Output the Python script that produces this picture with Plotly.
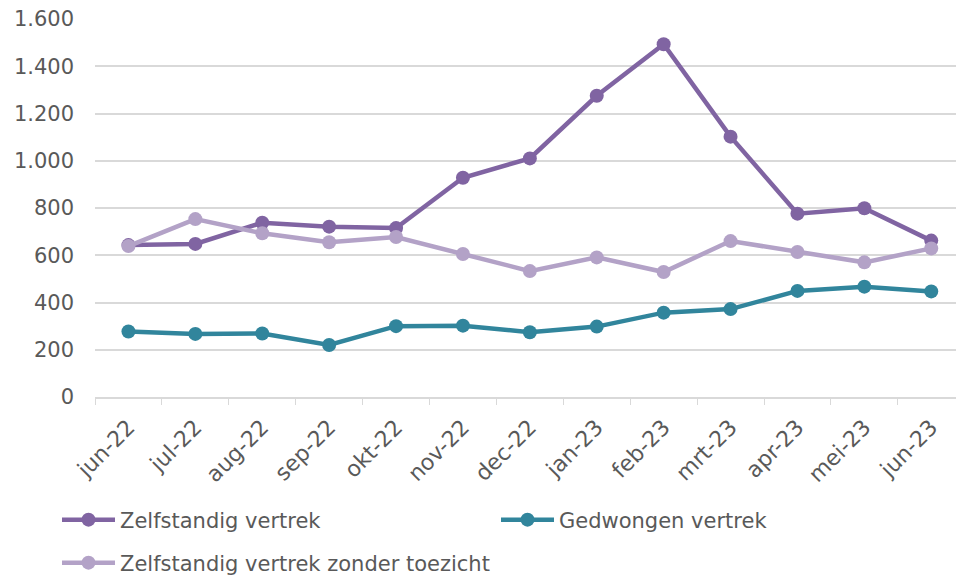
import plotly.graph_objects as go

months = ["jun-22", "jul-22", "aug-22", "sep-22", "okt-22", "nov-22", "dec-22",
          "jan-23", "feb-23", "mrt-23", "apr-23", "mei-23", "jun-23"]
zelfstandig = [643, 648, 738, 721, 715, 928, 1010, 1275, 1493, 1102, 776, 799, 662]
gedwongen = [277, 267, 269, 220, 300, 302, 274, 298, 357, 372, 449, 467, 447]
zonder_toezicht = [639, 753, 693, 655, 677, 605, 533, 591, 529, 660, 614, 570, 629]
y_ticks = [0, 200, 400, 600, 800, 1000, 1200, 1400, 1600]

FONT = "Verdana, DejaVu Sans, sans-serif"
TXT = "#595959"
FS = 21

fig = go.Figure()
series = [
    ("Zelfstandig vertrek", zelfstandig, "#8064A2", "legend"),
    ("Gedwongen vertrek", gedwongen, "#31859C", "legend3"),
    ("Zelfstandig vertrek zonder toezicht", zonder_toezicht, "#B3A2C7", "legend2"),
]
for name, vals, col, lg in series:
    fig.add_trace(go.Scatter(
        x=months, y=vals, name=name, mode="lines+markers",
        line=dict(color=col, width=4.5),
        marker=dict(color=col, size=14),
        legend=lg,
    ))

leg_common = dict(
    orientation="h", xref="container", yref="container",
    xanchor="left", yanchor="middle",
    font=dict(family=FONT, size=FS, color=TXT),
    itemwidth=53, bgcolor="rgba(0,0,0,0)",
)

fig.update_layout(
    width=956, height=575,
    margin=dict(l=95, r=0, t=19, b=178),
    paper_bgcolor="white", plot_bgcolor="white",
    font=dict(family=FONT, size=FS, color=TXT),
    separators=",.",
    showlegend=True,
    legend=dict(leg_common, x=57 / 956, y=1 - 520 / 575),
    legend3=dict(leg_common, x=496 / 956, y=1 - 520 / 575),
    legend2=dict(leg_common, x=57 / 956, y=1 - 563 / 575),
)
fig.update_xaxes(
    type="category", range=[-0.5, 12.37], automargin=False,
    tickangle=-45, tickson="boundaries", ticks="outside", ticklen=6,
    tickcolor="#d9d9d9", showline=True, linecolor="#d9d9d9", linewidth=1.5,
    showgrid=False, ticklabelstandoff=7,
    tickfont=dict(family=FONT, size=22, color=TXT),
)
fig.update_yaxes(
    range=[0, 1600], tickvals=y_ticks, tickformat=",d", automargin=False,
    showgrid=True, gridcolor="#d9d9d9", gridwidth=1.5, zeroline=False,
    ticks="", ticklabelstandoff=20,
    tickfont=dict(family=FONT, size=FS, color=TXT),
)

fig.write_html(
    "out.html",
    config={"displayModeBar": False},
    post_script="document.body.style.margin='0';document.body.style.overflow='hidden';",
)
